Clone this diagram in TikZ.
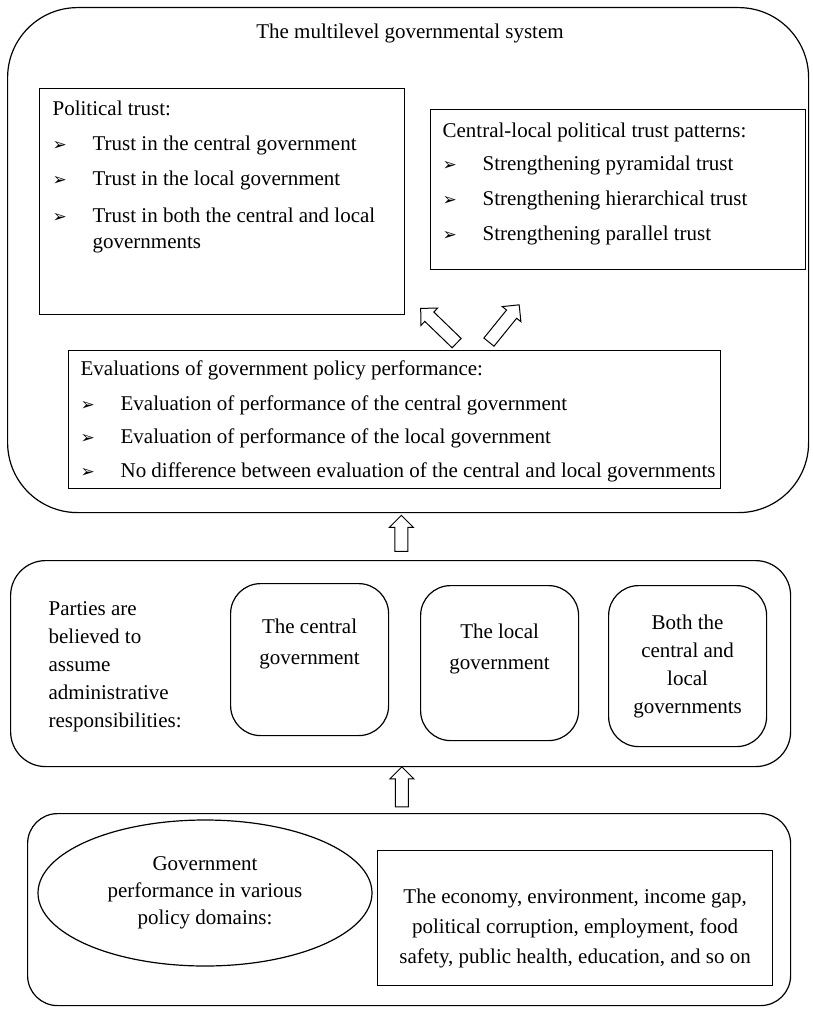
\documentclass[tikz,border=0pt]{standalone}
\usepackage{fontspec}
\setmainfont{Liberation Serif}
\newfontfamily\dingfont{DejaVu Sans}
\usetikzlibrary{shapes.geometric,shapes.arrows,calc,positioning}

\newcommand{\bul}{\makebox[40pt][l]{\dingfont\fontsize{17}{17}\selectfont ➢}}

\begin{document}
\begin{tikzpicture}[x=1pt,y=-1pt,line width=1.2pt,
                    font=\fontsize{21}{26}\selectfont]
    % Setup the styles for the boxes and arrows
        \tikzset{plain box/.style={draw, rectangle, inner sep=0pt, anchor=north west},
                 round box/.style={draw, rectangle, rounded corners=#1,
                                   inner sep=0pt, anchor=north west},
                 list text/.style={align=left, inner sep=0pt, anchor=north west},
                 hollow arrow/.style={single arrow, draw, line width=1pt,
                                      inner xsep=0pt, inner ysep=6pt,
                                      minimum width=0pt, text height=0pt, text depth=0pt,
                                      single arrow head extend=5.5pt,
                                      single arrow tip angle=90}}
        \useasboundingbox (0,0) rectangle (813,1011);
        % The multilevel governmental system
        \node[round box=70pt, minimum width=801pt, minimum height=505pt] at (7,7) (system) {};
        \node at (410,33) (system_title) {The multilevel governmental system};
        \node[plain box, minimum width=365pt, minimum height=226pt] at (39,88) (trust) {};
        \node[list text] at (52,100.5) (trust_list) {Political trust:\\[9pt]
              \bul Trust in the central government\\[9pt]
              \bul Trust in the local government\\[11pt]
              \bul Trust in both the central and local\\
              \hspace*{40pt}governments};
        \node[plain box, minimum width=375pt, minimum height=160pt] at (430,109) (pattern) {};
        \node[list text] at (442,122.5) (pattern_list) {Central-local political trust patterns:\\[7pt]
              \bul Strengthening pyramidal trust\\[9pt]
              \bul Strengthening hierarchical trust\\[9pt]
              \bul Strengthening parallel trust};
        \node[plain box, minimum width=652pt, minimum height=138pt] at (68,350) (eval) {};
        \node[list text] at (80,360.5) (eval_list) {Evaluations of government policy performance:\\[9pt]
              \bul Evaluation of performance of the central government\\[7pt]
              \bul Evaluation of performance of the local government\\[8pt]
              \bul No difference between evaluation of the central and local governments};
        \node[hollow arrow, minimum height=50pt, rotate=136] at (441,328) (arrow_trust) {};
        \node[hollow arrow, minimum height=48pt, rotate=51] at (502,326) (arrow_pattern) {};
        % Administrative responsibilities
        \node[round box=35pt, minimum width=780pt, minimum height=206pt] at (10,560) (resp) {};
        \node[align=left, inner sep=0pt, anchor=west] at (48,667) (resp_text) {Parties are\\[2pt]
              believed to\\[2pt] assume\\[2pt] administrative\\[2pt] responsibilities:};
        \node[round box=30pt, minimum width=158pt, minimum height=152pt] at (230,583) (central) {};
        \node[round box=30pt, minimum width=158pt, minimum height=155pt] at (420,585) (local) {};
        \node[round box=30pt, minimum width=158pt, minimum height=161pt] at (608,585) (both) {};
        \node[align=center] at ($(central.center)+(0,-16)$) (central_text) {The central\\[5pt] government};
        \node[align=center] at ($(local.center)+(0,-14)$) (local_text) {The local\\[5pt] government};
        \node[align=center] at (both.center) (both_text) {Both the\\[2pt] central and\\[2pt] local\\[2pt] governments};
        \node[hollow arrow, minimum height=36pt, rotate=90]
             at ($(system.south)!0.5!(resp.north)+(-3,0)$) (arrow_resp) {};
        % Policy domains
        \node[round box=30pt, minimum width=763pt, minimum height=192pt] at (27,813) (domain) {};
        \node[draw, ellipse, minimum width=334pt, minimum height=146pt, align=center]
             at (205,893) (domain_oval) {Government\\[1pt] performance in various\\[1pt] policy domains:};
        \node[plain box, minimum width=395pt, minimum height=135pt] at (377,850) (issues) {};
        \node[align=center] at ($(issues.center)+(0,10)$) (issues_text) {The economy, environment, income gap,\\[4pt]
              political corruption, employment, food\\[4pt] safety, public health, education, and so on};
        \node[hollow arrow, minimum height=40pt, rotate=90]
             at ($(resp.south)!0.5!(domain.north)+(-3,0)$) (arrow_domain) {};
\end{tikzpicture}
\end{document}
